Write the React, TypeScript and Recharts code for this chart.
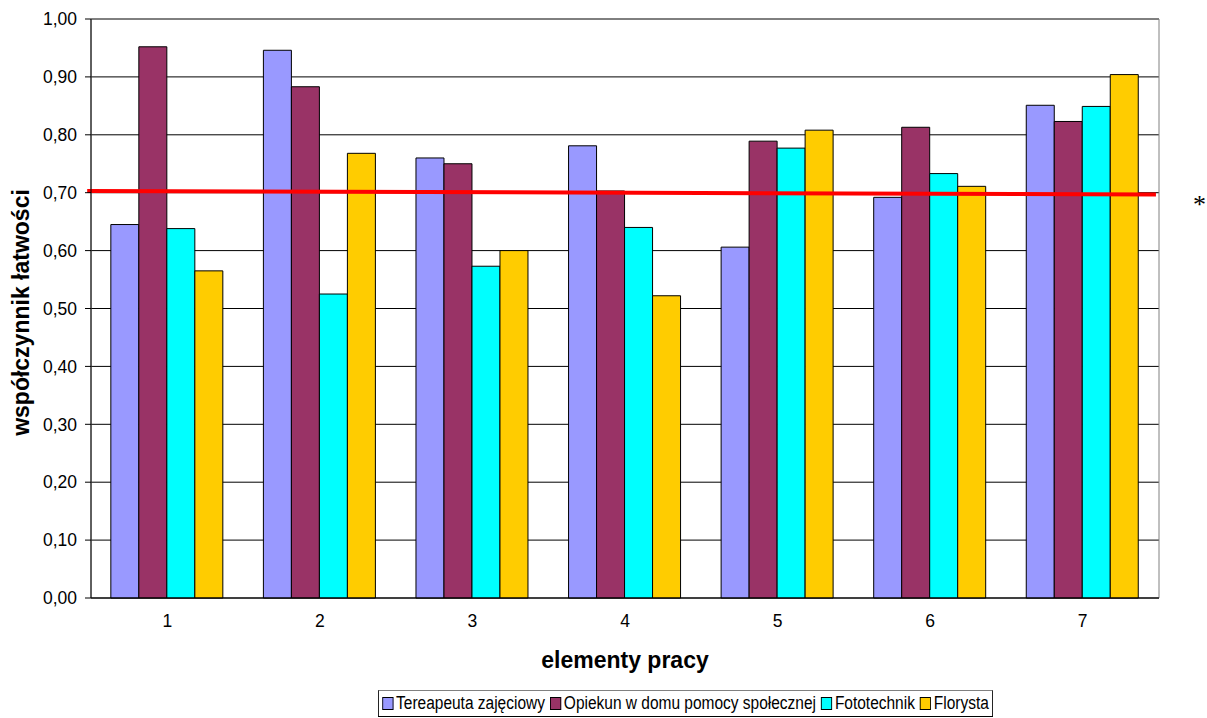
import { BarChart, Bar, XAxis, YAxis, CartesianGrid, ReferenceLine, ReferenceArea, Label } from 'recharts';

const categories = ['1', '2', '3', '4', '5', '6', '7'];
const tereapeuta = [0.645, 0.946, 0.760, 0.781, 0.606, 0.692, 0.851];
const opiekun = [0.952, 0.883, 0.750, 0.703, 0.789, 0.813, 0.823];
const fototechnik = [0.638, 0.525, 0.573, 0.640, 0.777, 0.733, 0.849];
const florysta = [0.565, 0.768, 0.600, 0.522, 0.808, 0.711, 0.904];

const seriesNames = ['Tereapeuta zajęciowy', 'Opiekun w domu pomocy społecznej', 'Fototechnik', 'Florysta'];
const seriesColors = ['#9999FF', '#993366', '#00FFFF', '#FFCC00'];
const seriesKeys = ['s0', 's1', 's2', 's3'];

const yTicks = [0, 0.1, 0.2, 0.3, 0.4, 0.5, 0.6, 0.7, 0.8, 0.9, 1.0];
const boundaryTicks = [0, 1, 2, 3, 4, 5, 6, 7];
const redLineStart = 0.703;
const redLineEnd = 0.697;

const font = 'Liberation Sans, Arial, sans-serif';

const data = categories.map((c, i) => ({
  name: c,
  pos: i + 0.5,
  s0: tereapeuta[i],
  s1: opiekun[i],
  s2: fototechnik[i],
  s3: florysta[i],
}));

const YTitle = (props: any) => {
  const { viewBox } = props;
  const x = viewBox.x + 10;
  const y = viewBox.y + viewBox.height / 2 + 4;
  return (
    <text
      x={x}
      y={y}
      transform={`rotate(-90, ${x}, ${y})`}
      textAnchor="middle"
      dominantBaseline="central"
      fontFamily={font}
      fontWeight="bold"
      fontSize={23}
      fill="#000"
    >
      współczynnik łatwości
    </text>
  );
};

const App = () => {
  return (
    <div style={{ position: 'absolute', left: 0, top: 0, width: 1207, height: 718, background: '#fff', fontFamily: font }}>
      <BarChart
        width={1207}
        height={718}
        data={data}
        margin={{ top: 19, right: 48, left: 11, bottom: 89 }}
        barCategoryGap="13%"
        barGap={0}
      >
        <CartesianGrid vertical={false} stroke="#000" strokeWidth={1} />
        <XAxis
          xAxisId="num"
          type="number"
          dataKey="pos"
          domain={[0, 7]}
          allowDataOverflow
          ticks={boundaryTicks}
          interval={0}
          height={1}
          axisLine={false}
          tick={false}
          tickSize={6}
          tickLine={{ stroke: '#000', strokeWidth: 1 }}
        />
        <XAxis
          dataKey="name"
          height={30}
          axisLine={{ stroke: '#000' }}
          tickLine={false}
          tick={{ fill: '#000', fontSize: 17.5, fontFamily: font }}
          tickMargin={11}
        >
          <Label value="elementy pracy" position="insideBottom" offset={-40} style={{ fontFamily: font, fontWeight: 'bold', fontSize: 23, fill: '#000' }} />
        </XAxis>
        <YAxis
          width={80}
          domain={[0, 1]}
          ticks={yTicks}
          interval={0}
          tickFormatter={(v: number) => v.toFixed(2).replace('.', ',')}
          axisLine={{ stroke: '#000' }}
          tickLine={{ stroke: '#000' }}
          tickSize={6}
          tickMargin={8}
          tick={{ fill: '#000', fontSize: 17.5, fontFamily: font }}
          label={<YTitle />}
        />
        <ReferenceArea xAxisId="num" x1={0} x2={7} y1={0} y2={1} fill="none" stroke="#808080" strokeWidth={1} ifOverflow="visible" />
        {seriesKeys.map((k, i) => (
          <Bar
            key={k}
            dataKey={k}
            name={seriesNames[i]}
            fill={seriesColors[i]}
            stroke="#000"
            strokeWidth={1}
            isAnimationActive={false}
          />
        ))}
        <ReferenceLine
          xAxisId="num"
          segment={[{ x: -0.025, y: redLineStart }, { x: 6.98, y: redLineEnd }]}
          stroke="#FF0000"
          strokeWidth={4}
          ifOverflow="visible"
        />
      </BarChart>
      <div
        style={{
          position: 'absolute',
          left: 378,
          top: 690,
          height: 27,
          border: '1px solid #000',
          borderTopColor: '#808080',
          display: 'flex',
          alignItems: 'center',
          padding: '0 4px',
          fontSize: 18,
          whiteSpace: 'nowrap',
          boxSizing: 'border-box',
          transform: 'scaleX(0.86)',
          transformOrigin: 'left center',
        }}
      >
        {seriesNames.map((n, i) => (
          <span key={n} style={{ display: 'flex', alignItems: 'center', marginRight: i < seriesNames.length - 1 ? 6 : 0 }}>
            <span style={{ display: 'inline-block', width: 11, height: 11, background: seriesColors[i], border: '1px solid #000', marginRight: 3 }} />
            {n}
          </span>
        ))}
      </div>
      <div style={{ position: 'absolute', left: 1193, top: 190, fontFamily: 'Liberation Serif, serif', fontSize: 26, color: '#000' }}>*</div>
    </div>
  );
};

export default App;
